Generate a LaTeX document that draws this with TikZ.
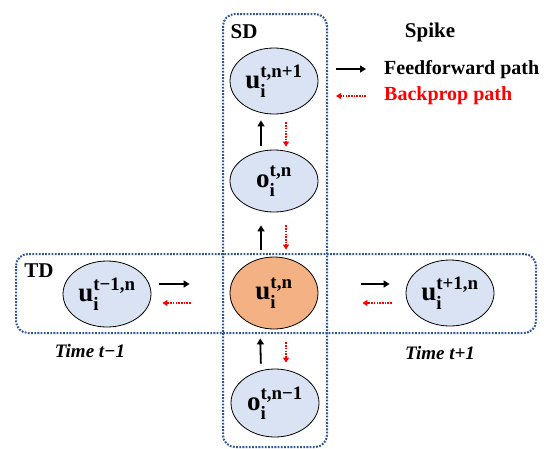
\documentclass[tikz,border=0pt]{standalone}
\usepackage{fontspec}
\usepackage{amsmath}
\setmainfont{Liberation Serif}
\usetikzlibrary{arrows.meta,shapes.geometric}
\definecolor{boxblue}{RGB}{47,85,151}
\definecolor{nodeblue}{RGB}{218,227,243}
\definecolor{nodeorange}{RGB}{244,177,131}
\tikzset{
  region/.style={draw=boxblue, line width=2pt, dash pattern=on 1.8pt off 1.4pt, rounded corners=12pt},
  cell/.style={ellipse, draw=black, line width=0.8pt, fill=nodeblue, inner sep=0pt, minimum width=88pt, minimum height=66pt, font=\fontsize{27}{30}\selectfont\bfseries},
  ff/.style={draw=black, line width=1.8pt, -{Triangle[length=6pt,width=7pt]}},
  bp/.style={draw=red, line width=1.6pt, dash pattern=on 1.6pt off 1.1pt, -{Triangle[length=5pt,width=6pt]}},
  lbl/.style={font=\fontsize{21}{24}\selectfont\bfseries, inner sep=0pt},
  leg/.style={font=\fontsize{20}{24}\selectfont\bfseries, inner sep=0pt, anchor=west},
  tlbl/.style={font=\fontsize{19}{22}\selectfont\bfseries\itshape, inner sep=0pt}
}
\newcommand{\lab}[2]{$\text{#1}_{\text{i}}^{\text{#2}}$}
\begin{document}
\begin{tikzpicture}[x=1pt,y=-1pt]
\useasboundingbox (0,0) rectangle (544,448);
% regions
\draw[region] (223,14) rectangle (327,447);
\draw[region] (16,254) rectangle (536,333);
% nodes
\node[cell] (top) at (274,81) {\lab{u}{t,n+1}};
\node[cell, minimum height=62pt] (o) at (274,181) {\lab{o}{t,n}};
\node[cell, fill=nodeorange, minimum height=72pt] (ctr) at (274,293) {\lab{u}{t,n}};
\node[cell, minimum height=68pt] (bot) at (275,403) {\lab{o}{t,n\textminus1}};
\node[cell] (left) at (107,294) {\lab{u}{t\textminus1,n}};
\node[cell] (right) at (450,293) {\lab{u}{t+1,n}};
% labels
\node[lbl] (sd) at (244,32) {SD};
\node[lbl] (td) at (39,271) {TD};
\node[lbl] (spike) at (430,32) {Spike};
\node[leg] (ffl) at (384,70) {Feedforward path};
\node[leg, text=red] (bpl) at (384,96) {Backprop path};
\node[tlbl] (tm) at (90,351) {Time t\textminus1};
\node[tlbl] (tp) at (440,353) {Time t+1};
% legend arrows
\coordinate (fa) at (336,69);
\coordinate (fb) at (366,69);
\coordinate (ba) at (366,96);
\coordinate (bb) at (336,96);
\draw[ff] (fa) -- (fb);
\draw[bp] (ba) -- (bb);
% vertical arrows
\draw[ff, shorten <=4pt, shorten >=6pt] ([xshift=-13pt]o.north) -- ([xshift=-13pt]top.south);
\draw[bp, shorten <=8pt, shorten >=3pt] ([xshift=12pt]top.south) -- ([xshift=12pt]o.north);
\draw[ff, shorten <=7pt, shorten >=13pt] ([xshift=-13pt]ctr.north) -- ([xshift=-13pt]o.south);
\draw[bp, shorten <=13pt, shorten >=7pt] ([xshift=12pt]o.south) -- ([xshift=12pt]ctr.north);
\draw[ff, shorten <=5pt, shorten >=9pt] ([xshift=-14pt]bot.north) -- ([xshift=-14pt]ctr.south);
\draw[bp, shorten <=13pt, shorten >=6pt] ([xshift=12pt]ctr.south) -- ([xshift=11pt]bot.north);
% horizontal arrows
\draw[ff, shorten <=8pt, shorten >=40pt] ([yshift=10pt]left.east) -- ([yshift=9pt]ctr.west);
\draw[bp, shorten <=39pt, shorten >=11pt] ([yshift=-10pt]ctr.west) -- ([yshift=-9pt]left.east);
\draw[ff, shorten <=43pt, shorten >=16pt] ([yshift=9pt]ctr.east) -- ([yshift=9pt]right.west);
\draw[bp, shorten <=14pt, shorten >=44pt] ([yshift=-10pt]right.west) -- ([yshift=-10pt]ctr.east);
\end{tikzpicture}
\end{document}
